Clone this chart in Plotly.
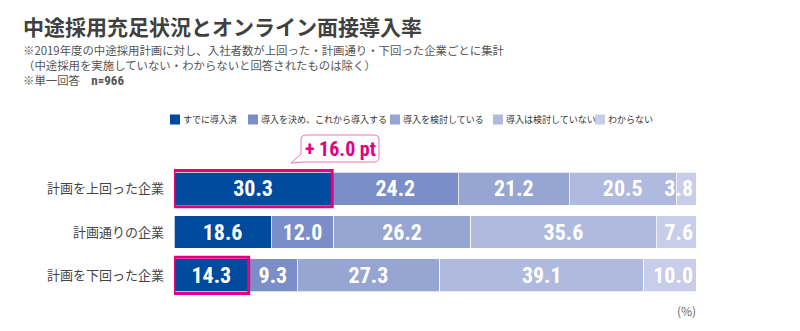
import plotly.graph_objects as go

# ---------------- data ----------------
categories = ["計画を上回った企業", "計画通りの企業", "計画を下回った企業"]
series_names = ["すでに導入済", "導入を決め、これから導入する", "導入を検討している",
                "導入は検討していない", "わからない"]
already = [30.3, 18.6, 14.3]
decided = [24.2, 12.0, 9.3]
considering = [21.2, 26.2, 27.3]
not_considering = [20.5, 35.6, 39.1]
unknown = [3.8, 7.6, 10.0]
series_values = [already, decided, considering, not_considering, unknown]
highlight_rows = ["計画を上回った企業", "計画を下回った企業"]

title = "中途採用充足状況とオンライン面接導入率"
sub_lines = ["※2019年度の中途採用計画に対し、入社者数が上回った・計画通り・下回った企業ごとに集計",
             "（中途採用を実施していない・わからないと回答されたものは除く）",
             "※単一回答　<span style='font-family:Roboto Condensed, DejaVu Sans Condensed;font-size:13px'><b>n=966</b></span>"]
unit_label = "(%)"

# ---------------- style ----------------
colors = ["#004b9e", "#7b8ec7", "#97a5d3", "#b0b9de", "#c8cdea"]
pink = "#e4007f"
JP = "Noto Sans CJK JP, Noto Sans, sans-serif"
NUM = "Roboto Condensed, DejaVu Sans Condensed, Roboto, sans-serif"

W, H = 800, 331
L, R, T, B = 174, 104, 167, 34
PW, PH = W - L - R, H - T - B


def px(x):
    return (x - L) / PW


def py(y):
    return (H - B - y) / PH


fig = go.Figure()
last = len(series_names) - 1
for k, (name, vals, col) in enumerate(zip(series_names, series_values, colors)):
    fig.add_trace(go.Bar(
        y=categories, x=vals, name=name, orientation="h",
        marker=dict(color=col, line=dict(color="rgba(255,255,255,0.7)", width=1)),
        texttemplate="%{x:.1f}", textposition="inside",
        insidetextanchor="end" if k == last else "middle",
        constraintext="none", textangle=0,
        textfont=dict(family=NUM, size=22, color="white", weight="bold"),
        hoverinfo="skip", showlegend=False,
    ))

for cat in highlight_rows:
    i = categories.index(cat)
    fig.add_shape(type="rect", xref="x", yref="y",
                  x0=0, x1=already[i], y0=i - 0.42, y1=i + 0.42,
                  line=dict(color=pink, width=3), fillcolor="rgba(0,0,0,0)")

bx0, bx1, by0, by1, r = 301, 379, 135, 162, 5
tail = [(301, 154), (291, 163), (303, 162)]
path = (f"M {px(bx0 + r)},{py(by0)} L {px(bx1 - r)},{py(by0)} "
        f"Q {px(bx1)},{py(by0)} {px(bx1)},{py(by0 + r)} "
        f"L {px(bx1)},{py(by1 - r)} Q {px(bx1)},{py(by1)} {px(bx1 - r)},{py(by1)} "
        f"L {px(tail[2][0])},{py(tail[2][1])} L {px(tail[1][0])},{py(tail[1][1])} "
        f"L {px(tail[0][0])},{py(tail[0][1])} "
        f"L {px(bx0)},{py(by0 + r)} Q {px(bx0)},{py(by0)} {px(bx0 + r)},{py(by0)} Z")
fig.add_shape(type="path", xref="paper", yref="paper", path=path,
              line=dict(color="#f070b8", width=1), fillcolor="white")
diff = already[0] - already[2]
fig.add_annotation(xref="paper", yref="paper", x=px((bx0 + bx1) / 2), y=py((by0 + by1) / 2),
                   text=f"+ {diff:.1f} pt",
                   showarrow=False, xanchor="center", yanchor="middle",
                   font=dict(family=NUM, size=20, color=pink, weight="bold"))

fig.add_annotation(xref="paper", yref="paper", x=px(21), y=py(26), text=f"<b>{title}</b>",
                   showarrow=False, xanchor="left", yanchor="middle",
                   font=dict(family=JP, size=21, color="#404040"))
fig.add_annotation(xref="paper", yref="paper", x=px(21), y=py(39.5), text="<br>".join(sub_lines),
                   showarrow=False, xanchor="left", yanchor="top", align="left",
                   font=dict(family=JP, size=11.4, color="#555555"))

legend_x = [170, 248, 390, 493, 595]
for name, col, lx in zip(series_names, colors, legend_x):
    fig.add_shape(type="rect", xref="paper", yref="paper",
                  x0=px(lx), x1=px(lx + 10), y0=py(124.5), y1=py(114.5),
                  line=dict(width=0), fillcolor=col)
    fig.add_annotation(xref="paper", yref="paper", x=px(lx + 11), y=py(119.5), text=name,
                       showarrow=False, xanchor="left", yanchor="middle",
                       font=dict(family=JP, size=9, color="#333333"))

fig.add_annotation(xref="paper", yref="paper", x=px(698), y=py(310), text=unit_label,
                   showarrow=False, xanchor="right", yanchor="middle",
                   font=dict(family=JP, size=12, color="#666666"))

fig.update_layout(
    width=W, height=H, barmode="stack", bargap=0.24,
    margin=dict(l=L, r=R, t=T, b=B, autoexpand=False),
    paper_bgcolor="white", plot_bgcolor="white",
    showlegend=False,
    xaxis=dict(range=[0, 100], visible=False, fixedrange=True),
    yaxis=dict(type="category", categoryorder="array", categoryarray=categories,
               autorange="reversed", showgrid=False, zeroline=False, showline=False,
               ticks="", ticklabelstandoff=9,
               tickfont=dict(family=JP, size=13, color="#444444")),
)
fig.write_html("out.html")
